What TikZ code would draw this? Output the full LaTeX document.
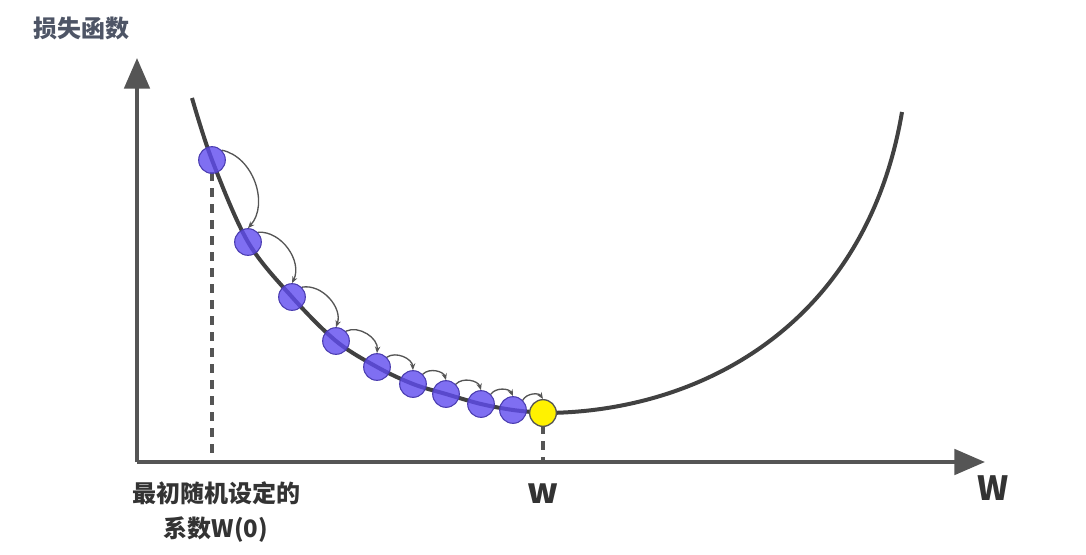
\documentclass[tikz,border=0pt]{standalone}
\usepackage{fontspec}
\newfontfamily\cjk{Noto Sans CJK SC}
\usepackage{tikz}
\usetikzlibrary{arrows.meta,positioning}

\definecolor{axisgray}{HTML}{555555}
\definecolor{curvegray}{HTML}{414141}
\definecolor{ballblue}{HTML}{5F4BEF}
\definecolor{balledge}{HTML}{4A3CB0}
\definecolor{titlegray}{HTML}{4E5566}

\tikzset{
  axis/.style={line width=3pt,axisgray,-{Triangle[length=23pt,width=19pt]}},
  ball/.style={circle,inner sep=0pt,minimum size=20pt,fill=ballblue,fill opacity=0.8,draw=balledge,line width=0.8pt},
  goal/.style={circle,inner sep=0pt,minimum size=20pt,fill=yellow,draw=axisgray,line width=1pt},
  hop/.style={line width=1pt,axisgray,-{Stealth[length=5pt,width=4pt]},bend left=60},
  guide/.style={line width=2.5pt,axisgray,dash pattern=on 7pt off 5pt},
  label/.style={font=\cjk\bfseries,text=black!80}
}

\begin{document}
\begin{tikzpicture}[x=0.75pt,y=-0.75pt]
\useasboundingbox (0,0) rectangle (1086,554);
% Axes
\coordinate (o) at (137,462);
\coordinate (ytip) at (137,58);
\coordinate (xtip) at (985,462);
\draw[axis] (o) -- (ytip);
\draw[axis] (o) -- (xtip);
\node[label,text=titlegray,font=\cjk\bfseries\fontsize{18}{20}\selectfont] (ylab) at (81,28) {损失函数};
\node[label,font=\cjk\bfseries\fontsize{25}{28}\selectfont] (xlab) at (993,488) {W};
% Loss curve
\draw[line width=3pt,curvegray,line join=round] plot[smooth,tension=0.55] coordinates {(192,98) (212,160) (248,242) (292,297) (336,341) (377,367) (413,384) (446,394) (481,404) (513,410) (543,413)}
  .. controls (700,413) and (866,325) .. (902,112);
% Guides down to the axis
\draw[guide] (212,172) -- (212,462);
\draw[guide] (543,425) -- (543,462);
% Steps
\foreach \x/\y [count=\i] in {212/160,248/242,292/297,336/341,377/367,413/384,446/394,481/404,513/410}
  \node[ball] (b\i) at (\x,\y) {};
\node[goal] (opt) at (543,413) {};
\foreach \i [evaluate=\i as \j using int(\i+1)] in {1,...,8}
  \draw[hop] (b\i.north east) to (b\j.north);
\draw[hop] (b9.north east) to (opt.north);
% Labels
\node[label,font=\cjk\bfseries\fontsize{26}{28}\selectfont] (wlab) at (543,494) {w};
\node[label,font=\cjk\bfseries\fontsize{18}{26}\selectfont,align=center] (w0) at (216,512) {最初随机设定的\\系数W(0)};
\end{tikzpicture}
\end{document}
